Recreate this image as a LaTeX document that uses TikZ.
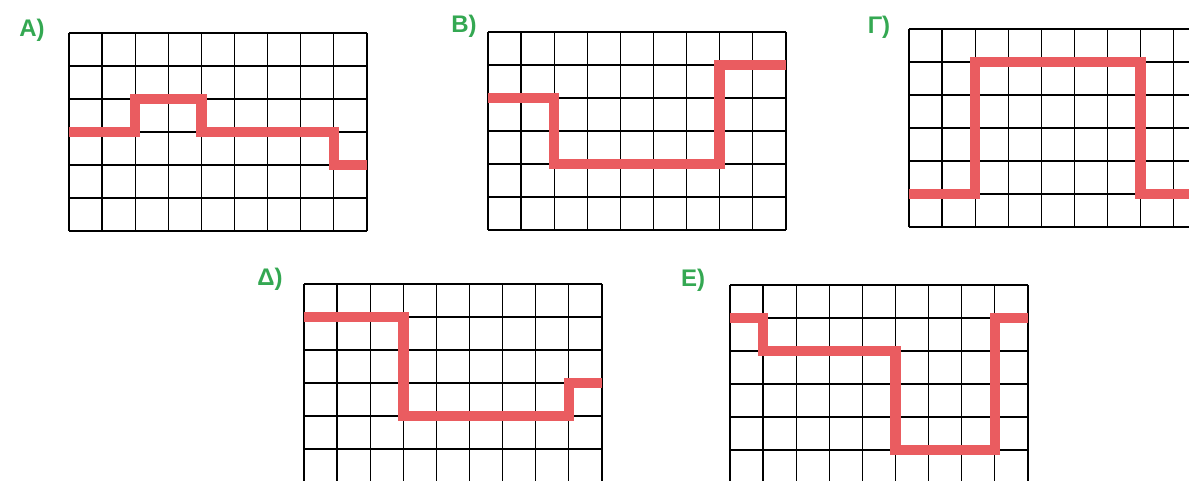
\documentclass[tikz,border=0pt]{standalone}
\usepackage{fontspec}
\setmainfont{Liberation Sans}
\definecolor{lblgreen}{RGB}{52,168,82}
\definecolor{sigred}{RGB}{234,92,96}
\tikzset{
  gridline/.style={black, line width=1.3pt},
  signal/.style={sigred, line width=10.5pt, line join=miter, line cap=butt},
  lbl/.style={text=lblgreen, font=\fontsize{24}{24}\selectfont\bfseries, inner sep=0pt},
  cellunits/.style={x={(33.1pt,0pt)}, y={(0pt,-33pt)}}
}
\newcommand{\mygrid}[2]{%
  \begin{scope}[shift={(#1,#2)}]
    \foreach \i in {0,...,9} \draw[gridline] (\i*33.1,0) -- (\i*33.1,198);
    \foreach \j in {0,...,6} \draw[gridline] (0,\j*33) -- (297.9,\j*33);
  \end{scope}}
\begin{document}
\begin{tikzpicture}[x=1pt,y=-1pt]
\useasboundingbox (0,0) rectangle (1189,481);
\clip (0,0) rectangle (1189,481);
\fill[white] (0,0) rectangle (1189,481);
% grids
\mygrid{69}{33}
\mygrid{488}{32}
\mygrid{909}{29}
\mygrid{304}{284}
\mygrid{730}{285}
% signals (grid units: column, row from top)
\begin{scope}[shift={(69,33)}]\begin{scope}[cellunits]
  \draw[signal] (0,3) -- (2,3) -- (2,2) -- (4,2) -- (4,3) -- (8,3) -- (8,4) -- (9,4);
\end{scope}\end{scope}
\begin{scope}[shift={(488,32)}]\begin{scope}[cellunits]
  \draw[signal] (0,2) -- (2,2) -- (2,4) -- (7,4) -- (7,1) -- (9,1);
\end{scope}\end{scope}
\begin{scope}[shift={(909,29)}]\begin{scope}[cellunits]
  \draw[signal] (0,5) -- (2,5) -- (2,1) -- (7,1) -- (7,5) -- (9,5);
\end{scope}\end{scope}
\begin{scope}[shift={(304,284)}]\begin{scope}[cellunits]
  \draw[signal] (0,1) -- (3,1) -- (3,4) -- (8,4) -- (8,3) -- (9,3);
\end{scope}\end{scope}
\begin{scope}[shift={(730,285)}]\begin{scope}[cellunits]
  \draw[signal] (0,1) -- (1,1) -- (1,2) -- (5,2) -- (5,5) -- (8,5) -- (8,1) -- (9,1);
\end{scope}\end{scope}
% labels
\node[lbl] (la) at (32,30) {Α)};
\node[lbl] (lb) at (464,26) {Β)};
\node[lbl] (lg) at (879,27) {Γ)};
\node[lbl] (ld) at (270,279) {Δ)};
\node[lbl] (le) at (693,280) {Ε)};
\end{tikzpicture}
\end{document}
